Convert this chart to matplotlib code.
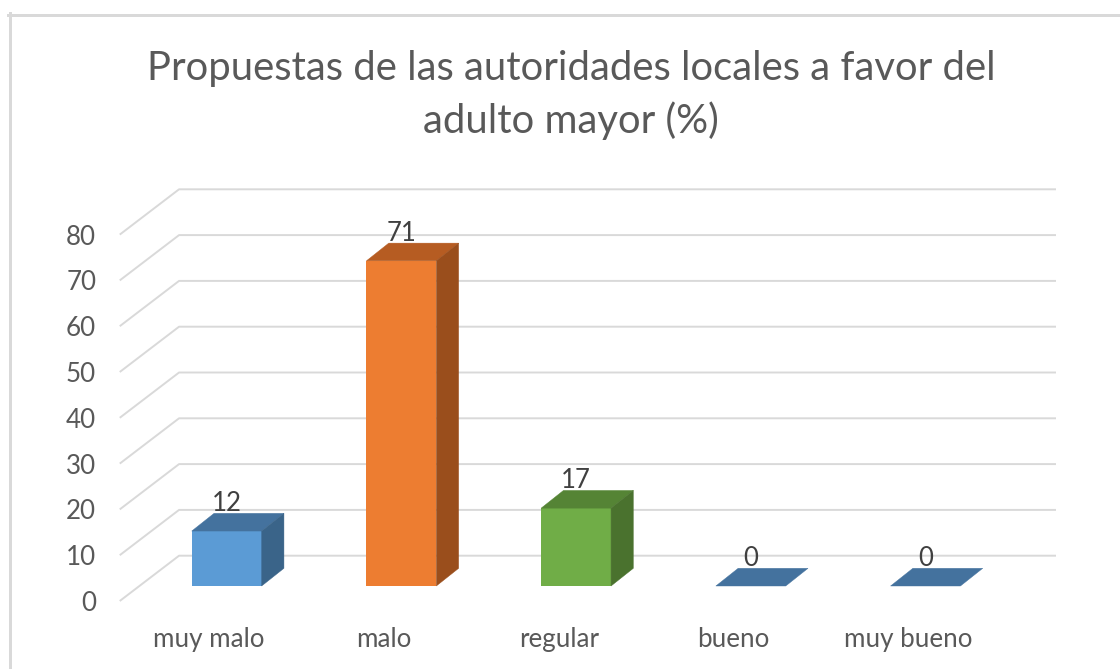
import matplotlib
matplotlib.use('Agg')
import matplotlib.pyplot as plt
from matplotlib.patches import Polygon
from matplotlib.lines import Line2D

# ---------------- data ----------------
categories = ['muy malo', 'malo', 'regular', 'bueno', 'muy bueno']
values = [12, 71, 17, 0, 0]
y_ticks = [0, 10, 20, 30, 40, 50, 60, 70, 80]
title_lines = ['Propuestas de las autoridades locales a favor del', 'adulto mayor (%)']

front_colors = ['#5B9BD5', '#ED7D31', '#70AD47', '#44729E', '#44729E']
top_colors = ['#44729E', '#B65C22', '#558435', '#44729E', '#44729E']
side_colors = ['#3A6489', '#9A4E1C', '#4A722E', '#3A6489', '#3A6489']

# ---------------- layout / style ----------------
W, H, DPI = 1120, 669, 100
FONT = 'Lato'
TXT = '#595959'
GRID = '#D9D9D9'

PX_PER_CAT = 174.7      # pixels between categories
PX_PER_UNIT = 4.58      # pixels per value unit
X0_PX = 226.7           # pixel x of first category (bar front centre)
Y0_PX = 586.0           # pixel y (from top) of value 0 at the bar front plane

BAR_W = 0.4
BAR_D = (22.3 / PX_PER_CAT, 17.7 / PX_PER_UNIT)      # bar depth vector
FRONT = (-19.6 / PX_PER_CAT, -15.0 / PX_PER_UNIT)    # front (axis) plane offset
BACK = (39.7 / PX_PER_CAT, 30.3 / PX_PER_UNIT)       # back wall offset
GRID_RIGHT = (1056 - X0_PX) / PX_PER_CAT

fig = plt.figure(figsize=(W / DPI, H / DPI), dpi=DPI)
ax = fig.add_axes([0, 0, 1, 1])
ax.set_xlim(-X0_PX / PX_PER_CAT, (W - X0_PX) / PX_PER_CAT)
ax.set_ylim(-(H - Y0_PX) / PX_PER_UNIT, Y0_PX / PX_PER_UNIT)
ax.patch.set_visible(False)
for s in ax.spines.values():
    s.set_visible(False)
ax.set_xticks([])
ax.set_yticks([])

renderer = fig.canvas.get_renderer()


def fit_size(text, target_px, base=20):
    t = fig.text(0, 0, text, fontsize=base, family=FONT)
    w = t.get_window_extent(renderer).width
    t.remove()
    return base * target_px / w


# gridlines: side wall diagonal + back wall horizontal
xl = -0.5
for s in y_ticks:
    xs = [xl + FRONT[0], xl + BACK[0], GRID_RIGHT]
    ys = [s + FRONT[1], s + BACK[1], s + BACK[1]]
    ax.plot(xs, ys, color=GRID, lw=1.4, zorder=1, solid_capstyle='butt')

# bars (front faces)
xpos = list(range(len(categories)))
ax.bar(xpos, values, width=BAR_W, color=front_colors, linewidth=0, zorder=3)

# top and side faces
for i, v in enumerate(values):
    x0, x1 = i - BAR_W / 2, i + BAR_W / 2
    dx, dy = BAR_D
    top = Polygon([(x0, v), (x1, v), (x1 + dx, v + dy), (x0 + dx, v + dy)],
                  closed=True, facecolor=top_colors[i], edgecolor=top_colors[i],
                  lw=0.3, zorder=3)
    ax.add_patch(top)
    if v > 0:
        side = Polygon([(x1, 0), (x1 + dx, dy), (x1 + dx, v + dy), (x1, v)],
                       closed=True, facecolor=side_colors[i], edgecolor=side_colors[i],
                       lw=0.3, zorder=3)
        ax.add_patch(side)
    ax.text(i, v + dy + 0.5, str(v), ha='center', va='baseline',
            fontsize=18.5, family=FONT, color='#404040', zorder=4)

# axis labels via secondary axes placed at the front plane
lab_size = fit_size('muy malo', 111)

sy = ax.secondary_yaxis((X0_PX + (xl + FRONT[0]) * PX_PER_CAT) / W,
                        functions=(lambda y: y - FRONT[1], lambda s: s + FRONT[1]))
sy.set_yticks(y_ticks)
sy.tick_params(length=0, pad=17, labelsize=lab_size, labelcolor=TXT)
for lab in sy.get_yticklabels():
    lab.set_family(FONT)
sy.spines['left'].set_visible(False)

front_y_px = Y0_PX - FRONT[1] * PX_PER_UNIT
sx = ax.secondary_xaxis((H - front_y_px) / H,
                        functions=(lambda x: x + 0.1, lambda x: x - 0.1))
sx.set_xticks(xpos, labels=categories)
sx.tick_params(length=0, pad=19, labelsize=lab_size, labelcolor=TXT)
for lab in sx.get_xticklabels():
    lab.set_family(FONT)
sx.spines['bottom'].set_visible(False)

# title
tsize = fit_size(title_lines[0], 849)
fig.text(571 / W, 1 - 50 / H, '\n'.join(title_lines), ha='center', va='top',
         multialignment='center', fontsize=tsize, family=FONT, color=TXT,
         linespacing=1.45)

# chart area frame (light grey)
lw_frame = 3 * 72 / DPI
fig.add_artist(Line2D([9.5 / W, 9.5 / W], [0, 1 - 13 / H], color=GRID,
                      lw=lw_frame, transform=fig.transFigure))
fig.add_artist(Line2D([8 / W, 1], [1 - 14.5 / H, 1 - 14.5 / H], color=GRID,
                      lw=lw_frame, transform=fig.transFigure))

fig.savefig('out.png', dpi=DPI)
